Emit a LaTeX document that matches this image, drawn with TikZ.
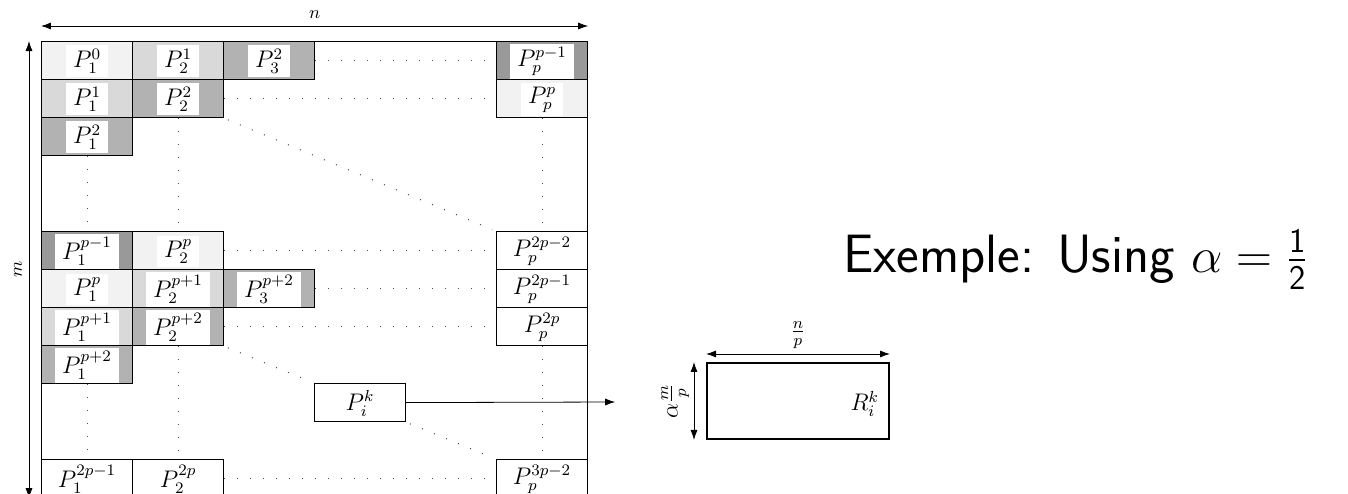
\documentclass[tikz,border=0pt]{standalone}
\usepackage{amsmath}
\usetikzlibrary{arrows.meta,positioning}

\begin{document}
\begin{tikzpicture}[x=45.5pt, y=-19pt, >={Latex[length=5pt,width=3.5pt]},
  every node/.style={font=\fontsize{11.5}{13}\selectfont},
  cell/.style={draw, line width=0.6pt, minimum width=45.5pt, minimum height=19pt, inner sep=0pt, anchor=north west},
  lab/.style={fill=white, inner xsep=3.5pt, inner ysep=1.8pt, yshift=-0.4pt},
  dots/.style={black!70, line width=0.5pt, dash pattern=on 0.5pt off 6pt}]
\useasboundingbox (-0.4505,-1.079) rectangle (14.363,11.921);
% the m x n matrix
\node[cell, minimum width=273pt, minimum height=228pt] (M) at (0,0) {};
\foreach \c/\r/\g/\t in {0/0/5/{P_1^0}, 1/0/15/{P_2^1}, 2/0/30/{P_3^2}, 5/0/40/{P_p^{p-1}},
  0/1/15/{P_1^1}, 1/1/30/{P_2^2}, 5/1/5/{P_p^p}, 0/2/30/{P_1^2},
  0/5/40/{P_1^{p-1}}, 1/5/5/{P_2^p}, 5/5/0/{P_p^{2p-2}},
  0/6/5/{P_1^p}, 1/6/15/{P_2^{p+1}}, 2/6/30/{P_3^{p+2}}, 5/6/0/{P_p^{2p-1}},
  0/7/15/{P_1^{p+1}}, 1/7/30/{P_2^{p+2}}, 5/7/0/{P_p^{2p}}, 0/8/30/{P_1^{p+2}},
  3/9/0/{P_i^k}, 0/11/0/{P_1^{2p-1}}, 1/11/0/{P_2^{2p}}, 5/11/0/{P_p^{3p-2}}}
{
  \node[cell, fill=black!\g] (c\c-\r) at (\c,\r) {};
  \node[lab] at (c\c-\r.center) {$\t$};
}
\draw[<->] ([yshift=7.5pt]M.north west) -- ([yshift=7.5pt]M.north east) node[midway, above, font=\small] {$n$};
\draw[<->] ([xshift=-6pt]M.south west) -- ([xshift=-6pt]M.north west) node[midway, above, sloped, font=\small] {$m$};
% dotted fill-in
\draw[dots] (c2-0.east) -- (c5-0.west); \draw[dots] (c1-1.east) -- (c5-1.west);
\draw[dots] (c1-5.east) -- (c5-5.west); \draw[dots] (c2-6.east) -- (c5-6.west);
\draw[dots] (c1-7.east) -- (c5-7.west); \draw[dots] (c1-11.east) -- (c5-11.west);
\draw[dots] (c0-2.south) -- (c0-5.north); \draw[dots] (c1-1.south) -- (c1-5.north); \draw[dots] (c5-1.south) -- (c5-5.north);
\draw[dots] (c0-8.south) -- (c0-11.north); \draw[dots] (c1-7.south) -- (c1-11.north); \draw[dots] (c5-7.south) -- (c5-11.north);
\draw[dots, shorten <=2pt, shorten >=2pt] (c1-1.south east) -- (c5-5.north west);
\draw[dots, shorten <=2pt, shorten >=2pt] (c1-7.south east) -- (c3-9.north west);
\draw[dots, shorten <=2pt, shorten >=2pt] (c3-9.south east) -- (c5-11.north west);
% one block
\node[cell, line width=1pt, minimum width=91pt, minimum height=38pt] (R) at (7.308,8.447) {};
\node[anchor=east, yshift=-1.5pt] (Rl) at ([xshift=-2pt]R.east) {$R_i^k$};
\coordinate (to) at (6.31,9.5);
\draw[->] (c3-9.east) -- (to);
\draw[<->] ([yshift=4pt]R.north west) -- ([yshift=4pt]R.north east) node[midway, above=-1pt] {$\frac{n}{p}$};
\draw[<->] ([xshift=-6pt]R.south west) -- ([xshift=-6pt]R.north west) node[midway, above=-1pt, sloped] {$\alpha\frac{m}{p}$};
\node[anchor=west, inner sep=0pt, font=\fontsize{27}{32}\selectfont\sffamily] (ex) at (8.813,5.75) {Exemple: Using $\alpha = \frac{\mathsf{1}}{\mathsf{2}}$};
\end{tikzpicture}
\end{document}
